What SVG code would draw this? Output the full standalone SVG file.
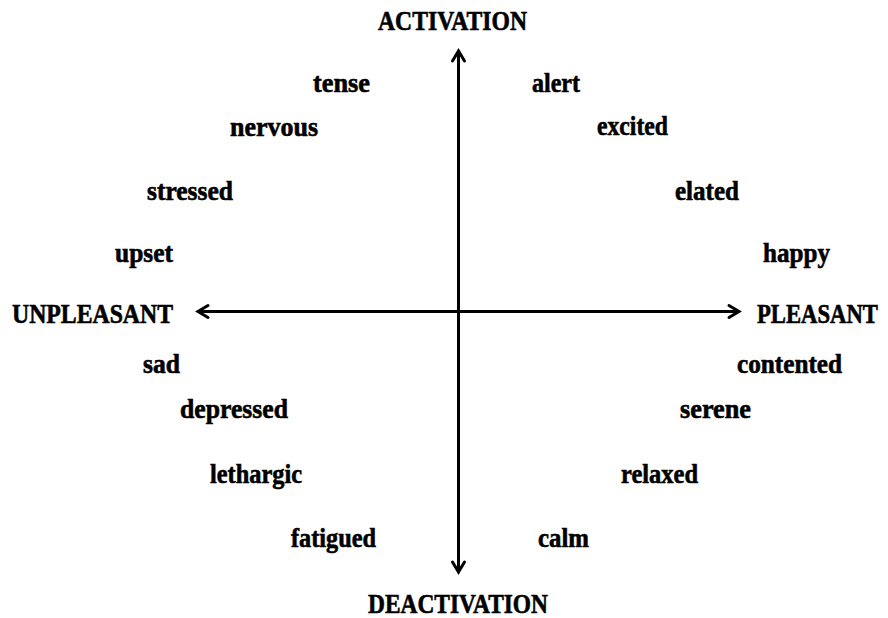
<svg xmlns="http://www.w3.org/2000/svg" width="888" height="618" viewBox="0 0 888 618">
<style>
text{font-family:"Liberation Serif","DejaVu Serif",serif;font-weight:bold;fill:#000;stroke:#000;stroke-width:0.6}
.ax{font-size:27px}
.w{font-size:27px}
.line{stroke:#000;stroke-width:3;fill:none}
</style>
<defs>
<marker id="chev" markerUnits="userSpaceOnUse" markerWidth="20" markerHeight="20" viewBox="-14 -10 18 20" refX="0" refY="0" orient="auto-start-reverse">
<path d="M-10,-6 L0,0 L-10,6" fill="none" stroke="#000" stroke-width="3" stroke-linecap="round" stroke-linejoin="miter"/>
</marker>
</defs>
<rect width="888" height="618" fill="#fff"/>
<g id="connectors">
<line class="line" x1="458.5" y1="572" x2="458.5" y2="51" marker-start="url(#chev)" marker-end="url(#chev)"/>
<line class="line" x1="198" y1="311.5" x2="739" y2="311.5" marker-start="url(#chev)" marker-end="url(#chev)"/>
</g>
<g id="activation"><text class="ax" x="378" y="30" textLength="149" lengthAdjust="spacingAndGlyphs">ACTIVATION</text></g>
<g id="unpleasant"><text class="ax" x="12" y="323" textLength="161" lengthAdjust="spacingAndGlyphs">UNPLEASANT</text></g>
<g id="pleasant"><text class="ax" x="757" y="323" textLength="121" lengthAdjust="spacingAndGlyphs">PLEASANT</text></g>
<g id="deactivation"><text class="ax" x="368" y="613" textLength="180" lengthAdjust="spacingAndGlyphs">DEACTIVATION</text></g>
<g id="tense"><text class="w" x="313" y="92" textLength="57" lengthAdjust="spacingAndGlyphs">tense</text></g>
<g id="alert"><text class="w" x="532" y="92" textLength="48" lengthAdjust="spacingAndGlyphs">alert</text></g>
<g id="nervous"><text class="w" x="230" y="136" textLength="88" lengthAdjust="spacingAndGlyphs">nervous</text></g>
<g id="excited"><text class="w" x="597" y="135" textLength="71" lengthAdjust="spacingAndGlyphs">excited</text></g>
<g id="stressed"><text class="w" x="147" y="200" textLength="86" lengthAdjust="spacingAndGlyphs">stressed</text></g>
<g id="elated"><text class="w" x="675" y="200" textLength="64" lengthAdjust="spacingAndGlyphs">elated</text></g>
<g id="upset"><text class="w" x="115" y="262" textLength="58" lengthAdjust="spacingAndGlyphs">upset</text></g>
<g id="happy"><text class="w" x="763" y="262" textLength="67" lengthAdjust="spacingAndGlyphs">happy</text></g>
<g id="sad"><text class="w" x="143" y="373" textLength="37" lengthAdjust="spacingAndGlyphs">sad</text></g>
<g id="contented"><text class="w" x="737" y="373" textLength="105" lengthAdjust="spacingAndGlyphs">contented</text></g>
<g id="depressed"><text class="w" x="180" y="418" textLength="108" lengthAdjust="spacingAndGlyphs">depressed</text></g>
<g id="serene"><text class="w" x="680" y="418" textLength="71" lengthAdjust="spacingAndGlyphs">serene</text></g>
<g id="lethargic"><text class="w" x="210" y="483" textLength="92" lengthAdjust="spacingAndGlyphs">lethargic</text></g>
<g id="relaxed"><text class="w" x="621" y="483" textLength="77" lengthAdjust="spacingAndGlyphs">relaxed</text></g>
<g id="fatigued"><text class="w" x="291" y="547" textLength="85" lengthAdjust="spacingAndGlyphs">fatigued</text></g>
<g id="calm"><text class="w" x="538" y="547" textLength="51" lengthAdjust="spacingAndGlyphs">calm</text></g>
</svg>
